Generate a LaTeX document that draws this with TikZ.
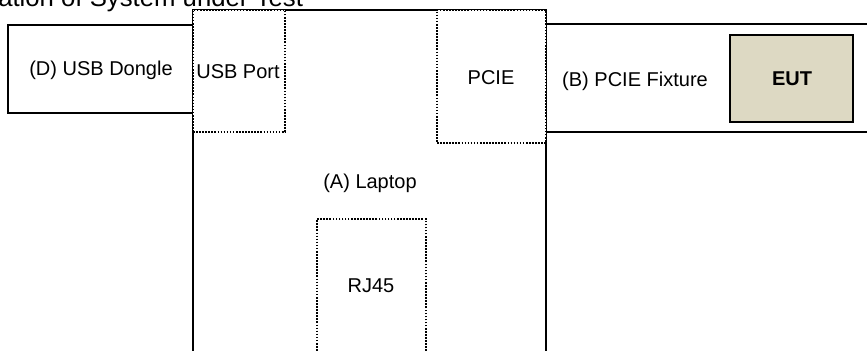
\documentclass[tikz,border=0pt]{standalone}
\usepackage{fontspec}
\setmainfont{Liberation Sans}
\usetikzlibrary{positioning, fit}
\definecolor{euttan}{RGB}{221, 217, 195}
\newcommand{\boxfont}{\fontsize{15}{18}\selectfont}
\newcommand{\titlefont}{\fontsize{19.3}{22}\selectfont}
\tikzset{
    unitbox/.style={draw, rectangle, line width=1.5pt, fill=white, inner sep=0pt},
    portbox/.style={unitbox, line width=1.3pt, dash pattern=on 1.2pt off 1.1pt},
    eutbox/.style={unitbox, fill=euttan},
    boxlabel/.style={font=\boxfont, inner sep=0pt},
}
\begin{document}
\begin{tikzpicture}[x=0.75pt, y=-0.75pt]
                \useasboundingbox (0,0) rectangle (867,350);
                \clip (0,0) rectangle (867,350);
                % Title, cut at the top
                \node[anchor=base west, inner sep=0pt, font=\titlefont] (title) at (-2,6)
                      {ation of System under Test};
                % Units
                \node[unitbox, line width=1.9pt, fit={(193,10) (546,380)}] (laptop) {};
                \node[unitbox, fit={(8,25) (193,113)}] (dongle) {};
                \node[unitbox, fit={(546,24) (890,132)}] (fixture) {};
                \node[eutbox, fit={(730,35) (853,122)}] (eut) {};
                % Ports on the laptop
                \node[portbox, fit={(193,10) (285,132)}] (usbport) {};
                \node[portbox, fit={(437,10) (546,143)}] (pcie) {};
                \node[portbox, fit={(317,219) (426,380)}] (rj45) {};
                % Labels
                \node[boxlabel] (donglelabel) at (101,70) {(D) USB Dongle};
                \node[boxlabel] (usbportlabel) at (238,72) {USB Port};
                \node[boxlabel] (pcielabel) at (491,78) {PCIE};
                \node[boxlabel, font=\boxfont\bfseries] (eutlabel) at (792,79) {EUT};
                \node[boxlabel] (laptoplabel) at (370,183) {(A) Laptop};
                \node[boxlabel] (fixturelabel) at (635,81) {(B) PCIE Fixture};
                \node[boxlabel] (rj45label) at (371,286) {RJ45};
            \end{tikzpicture}
\end{document}
